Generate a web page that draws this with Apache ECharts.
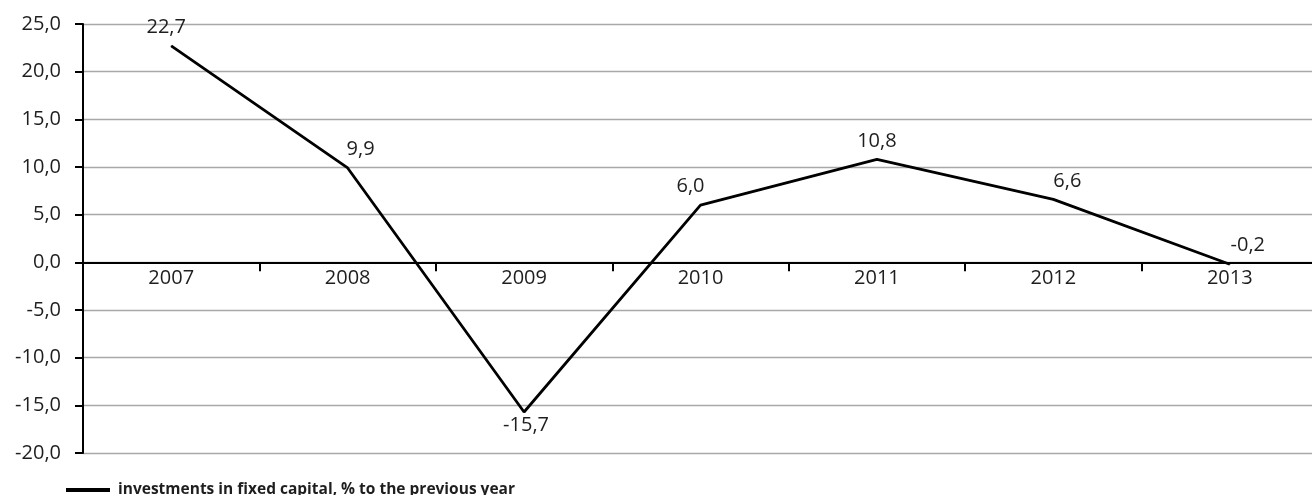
<!DOCTYPE html>
<html>
<head>
<meta charset="utf-8">
<script src="https://cdn.jsdelivr.net/npm/echarts@6/dist/echarts.min.js"></script>
<style>
  html, body { margin: 0; padding: 0; background: #ffffff; }
  #chart { width: 1312px; height: 495px; }
</style>
</head>
<body>
<div id="chart"></div>
<script>
// Annual change of investments in fixed capital, % to the previous year
const years = ['2007', '2008', '2009', '2010', '2011', '2012', '2013'];
const growth = [22.7, 9.9, -15.7, 6.0, 10.8, 6.6, -0.2];
const seriesName = 'investments in fixed capital, % to the previous year';

// per-point label placement (horizontal nudge, above/below)
const labelShift = [-5, 13, 2, -10, 0, 14, 18];
const labelPos = ['top', 'top', 'bottom', 'top', 'top', 'top', 'top'];

const Y_MIN = -20, Y_MAX = 25, Y_STEP = 5;
const GRID_TOP = 24, GRID_H = 429;

const fmt = v => Number(v).toFixed(1).replace('.', ',');
const FONT = '"Open Sans", "Noto Sans", sans-serif';
const TEXT = '#1e1e1e';

const chart = echarts.init(document.getElementById('chart'), null, { renderer: 'canvas' });

const points = growth.map((v, i) => ({
  value: v,
  label: {
    position: labelPos[i],
    offset: [labelShift[i], 0],
    distance: labelPos[i] === 'top' ? 8 : 3
  }
}));

// the category axis sits on the zero line
const zeroLift = GRID_H * (0 - Y_MIN) / (Y_MAX - Y_MIN);

chart.setOption({
  animation: false,
  backgroundColor: '#ffffff',
  textStyle: { fontFamily: FONT },
  grid: {
    left: 83, top: GRID_TOP, right: -6, height: GRID_H,
    containLabel: false, outerBoundsMode: 'none'
  },
  legend: {
    left: 66,
    top: 482,
    icon: 'rect',
    itemWidth: 44,
    itemHeight: 4,
    padding: 0,
    data: [{ name: seriesName, itemStyle: { color: '#000000' } }],
    textStyle: {
      fontFamily: FONT, fontSize: 15.5, fontWeight: 'bold', color: TEXT,
      padding: [0, 0, 0, 3]
    }
  },
  xAxis: {
    type: 'category',
    data: years,
    boundaryGap: true,
    offset: -zeroLift,
    axisLine: { onZero: false, lineStyle: { color: '#000000', width: 2 } },
    axisTick: { show: true, length: 9, lineStyle: { color: '#000000', width: 2 } },
    axisLabel: { margin: 6, fontSize: 20, color: TEXT, fontFamily: FONT },
    splitLine: { show: false }
  },
  yAxis: {
    type: 'value',
    min: Y_MIN,
    max: Y_MAX,
    interval: Y_STEP,
    axisLine: { show: true, lineStyle: { color: '#000000', width: 2 } },
    axisTick: { show: true, length: 8, lineStyle: { color: '#000000', width: 2 } },
    axisLabel: { margin: 22, fontSize: 20, color: TEXT, fontFamily: FONT, formatter: fmt },
    splitLine: { show: true, lineStyle: { color: '#a8a8a8', width: 1.3 } }
  },
  series: [{
    name: seriesName,
    type: 'line',
    data: points,
    showSymbol: true,
    symbol: 'circle',
    symbolSize: 1,
    lineStyle: { color: '#000000', width: 2.8 },
    itemStyle: { color: '#000000' },
    label: {
      show: true,
      fontSize: 20,
      color: TEXT,
      fontFamily: FONT,
      formatter: p => fmt(p.value)
    },
    z: 3
  }]
});
</script>
</body>
</html>
